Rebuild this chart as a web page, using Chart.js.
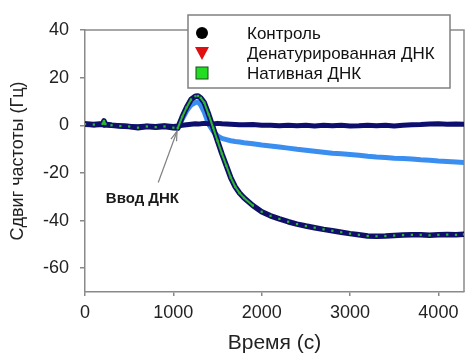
<!DOCTYPE html>
<html>
<head>
<meta charset="utf-8">
<script src="https://cdn.jsdelivr.net/npm/chart.js@4.4.1/dist/chart.umd.min.js"></script>
<style>
html,body{margin:0;padding:0;background:#fff;}
#wrap{width:468px;height:359px;position:relative;}
</style>
</head>
<body>
<div id="wrap"><canvas id="c" width="468" height="359"></canvas></div>
<script>
// ---- data ----
const times = [0,100,200,215,230,300,400,500,600,700,800,900,1000,1050,1100,1150,1200,1250,1280,1310,1350,1400,1450,1500,1550,1600,1650,1700,1750,1800,1900,2000,2100,2200,2300,2400,2500,2600,2700,2800,2900,3000,3100,3200,3300,3400,3500,3600,3700,3800,3900,4000,4100,4200,4290];
const control = [0.5,0.2,0.3,0,0.2,0,-0.2,-0.5,-0.6,-0.3,-0.5,-0.2,-0.5,-0.3,0,0.2,0.4,0.6,0.5,0.6,0.8,0.6,0.5,0.8,0.6,0.5,0.4,0.3,0.2,0.2,0.3,0,0,-0.2,0,-0.2,0,-0.3,0,-0.2,0,-0.3,-0.2,0,-0.2,0,-0.3,0,0.2,0.3,0.5,0.6,0.4,0.5,0.4];
const denatured = [0.3,0,0.5,0.3,0,0,-0.3,-0.5,-0.8,-0.5,-0.5,-0.3,-0.8,-1,2.5,6,8.5,9.5,9.8,8.5,5.5,0.5,-2.5,-4.5,-5.5,-6,-6.5,-6.8,-7,-7.3,-7.8,-8.3,-8.7,-9.1,-9.6,-10.1,-10.5,-10.9,-11.3,-11.7,-12,-12.3,-12.6,-13,-13.3,-13.5,-13.8,-14,-14.2,-14.5,-14.7,-15,-15.2,-15.4,-15.6];
const native = [0.5,0.3,0.6,1.8,0.5,0,-0.3,-0.5,-1,-0.5,-0.8,-0.5,-1,-1.2,3.5,7.5,10.8,12.2,12.3,11.5,9.5,4.5,-1,-6.5,-12,-17,-22,-25.8,-28.5,-30.5,-33.7,-36.3,-38,-39.3,-40.5,-41.5,-42.3,-43,-43.7,-44.3,-44.9,-45.5,-46,-46.5,-46.6,-46.5,-46.3,-46.1,-46,-46,-46.2,-46,-45.9,-46,-45.8];
const seriesLabels = ['Контроль','Денатурированная ДНК','Нативная ДНК'];
const xTicks = [0,1000,2000,3000,4000];
const yTicks = [-60,-40,-20,0,20,40];
const xTitle = 'Время (с)';
const yTitle = 'Сдвиг частоты (Гц)';
const annotText = 'Ввод ДНК';

const pts = arr => times.map((t,i)=>({x:t,y:arr[i]}));
const FONT = '"Liberation Sans", Arial, sans-serif';

// ---- plugins ----
const framePlugin = {
  id:'frame',
  beforeDatasetsDraw(chart){
    const {ctx, chartArea:a} = chart;
    ctx.save();
    ctx.strokeStyle='#8a8a8a'; ctx.lineWidth=1.5;
    ctx.beginPath();
    ctx.moveTo(a.left,a.top); ctx.lineTo(a.right,a.top); ctx.lineTo(a.right,a.bottom);
    ctx.stroke();
    ctx.restore();
  }
};
const annotPlugin = {
  id:'annot',
  afterDatasetsDraw(chart){
    const {ctx, scales:{x,y}} = chart;
    const hx = x.getPixelForValue(1042), hy = y.getPixelForValue(-2.5);
    const tx = x.getPixelForValue(829), ty = y.getPixelForValue(-24);
    ctx.save();
    ctx.strokeStyle='#808080'; ctx.lineWidth=1.2;
    ctx.beginPath(); ctx.moveTo(tx,ty); ctx.lineTo(hx,hy); ctx.stroke();
    const ang = Math.atan2(hy-ty, hx-tx);
    ctx.beginPath();
    ctx.moveTo(hx - 10*Math.cos(ang-0.3), hy - 10*Math.sin(ang-0.3));
    ctx.lineTo(hx,hy);
    ctx.lineTo(hx - 10*Math.cos(ang+0.3), hy - 10*Math.sin(ang+0.3));
    ctx.stroke();
    ctx.fillStyle='#1a1a1a';
    ctx.font='bold 15px '+FONT;
    ctx.textAlign='center'; ctx.textBaseline='middle';
    ctx.fillText(annotText, x.getPixelForValue(650), y.getPixelForValue(-30.7));
    ctx.restore();
  }
};
const legendPlugin = {
  id:'customLegend',
  afterDraw(chart){
    const {ctx} = chart;
    const bx=188, by=15, bw=262, bh=73;
    ctx.save();
    ctx.fillStyle='#fff'; ctx.fillRect(bx,by,bw,bh);
    ctx.strokeStyle='#808080'; ctx.lineWidth=1.5; ctx.strokeRect(bx,by,bw,bh);
    const sx=202, rows=[33,53,73];
    ctx.fillStyle='#000'; ctx.beginPath(); ctx.arc(sx,rows[0],6,0,Math.PI*2); ctx.fill();
    ctx.fillStyle='#e01010'; ctx.beginPath();
    ctx.moveTo(sx-7,rows[1]-6); ctx.lineTo(sx+7,rows[1]-6); ctx.lineTo(sx,rows[1]+7); ctx.closePath(); ctx.fill();
    ctx.fillStyle='#22dd22'; ctx.fillRect(sx-6,rows[2]-6,12,12);
    ctx.strokeStyle='#1a4a1a'; ctx.lineWidth=1; ctx.strokeRect(sx-6,rows[2]-6,12,12);
    ctx.fillStyle='#111'; ctx.font='17px '+FONT; ctx.textAlign='left'; ctx.textBaseline='middle';
    seriesLabels.forEach((l,i)=>ctx.fillText(l,247,rows[i]+1));
    ctx.restore();
  }
};

new Chart(document.getElementById('c'), {
  type:'line',
  data:{
    datasets:[
      {label:seriesLabels[0], data:pts(control), borderColor:'#0e0e6e', borderWidth:5, pointRadius:0, order:3},
      {label:seriesLabels[1], data:pts(denatured), borderColor:'#3a8ef0', borderWidth:5, pointRadius:0, order:4},
      {label:seriesLabels[2], data:pts(native), borderColor:'#10106a', borderWidth:5.5,
        pointStyle:'rect', pointRadius:1.6, pointBackgroundColor:'#2db82d', pointBorderWidth:0, order:2},
      {label:'core', data:pts(native), borderWidth:2, pointRadius:0, order:1,
        borderColor:'#2db82d',
        segment:{borderColor: c => (Math.abs(c.p1.y-c.p0.y) > 0.8*Math.abs(c.p1.x-c.p0.x)) ? '#2db82d' : 'rgba(0,0,0,0)'}}
    ]
  },
  options:{
    responsive:false, animation:false,
    layout:{padding:{top:30,right:1,left:0,bottom:0}},
    plugins:{legend:{display:false}, tooltip:{enabled:false}},
    elements:{line:{tension:0, borderCapStyle:'round', borderJoinStyle:'round'}},
    scales:{
      x:{type:'linear', min:0, max:4290,
        afterBuildTicks: s => { s.ticks = xTicks.map(v=>({value:v})); },
        afterFit: s => { s.height = 67; },
        grid:{drawOnChartArea:false, tickLength:4, color:'#888', lineWidth:1.5},
        border:{color:'#8a8a8a', width:1.5},
        ticks:{font:{family:FONT,size:18}, color:'#222', padding:6, maxRotation:0, callback: v => String(v)},
        title:{display:true, text:xTitle, font:{family:FONT,size:21}, color:'#222', padding:{top:0,bottom:3}}
      },
      y:{type:'linear', min:-70, max:40,
        afterBuildTicks: s => { s.ticks = yTicks.map(v=>({value:v})); },
        afterFit: s => { s.width = 85; },
        grid:{drawOnChartArea:false, tickLength:5, color:'#888', lineWidth:1.5},
        border:{color:'#8a8a8a', width:1.5},
        ticks:{font:{family:FONT,size:18}, color:'#222', padding:11, callback: v => String(v)},
        title:{display:true, text:yTitle, font:{family:FONT,size:18}, color:'#222', padding:{top:7,bottom:0}}
      }
    }
  },
  plugins:[framePlugin, annotPlugin, legendPlugin]
});
</script>
</body>
</html>
